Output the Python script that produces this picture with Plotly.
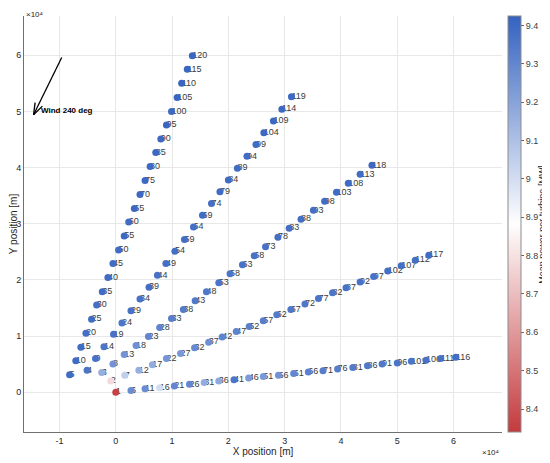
import math
import plotly.graph_objects as go

# turbine layout, positions in units of 1e4 m
# five arms, turbine ids step by 5 along each arm
arm_a_ids = [1, 6, 11, 16, 21, 26, 31, 36, 41, 46, 51, 56, 61, 66, 71, 76, 81, 86, 91, 96, 101, 106, 111, 116]
arm_a_x = [0.00, 0.27, 0.52, 0.78, 1.04, 1.31, 1.57, 1.83, 2.10, 2.36, 2.62, 2.89, 3.16, 3.42, 3.68, 3.94, 4.21, 4.47, 4.73, 5.00, 5.25, 5.51, 5.77, 6.04]
arm_a_y = [0.00, 0.03, 0.06, 0.08, 0.11, 0.14, 0.17, 0.20, 0.22, 0.25, 0.28, 0.30, 0.33, 0.36, 0.38, 0.41, 0.44, 0.47, 0.50, 0.52, 0.55, 0.57, 0.60, 0.62]
arm_a_power = [8.36, 9.28, 9.28, 9.00, 9.30, 9.30, 9.17, 9.18, 9.36, 9.23, 9.24, 9.26, 9.30, 9.32, 9.33, 9.33, 9.34, 9.35, 9.35, 9.36, 9.36, 9.37, 9.37, 9.38]

arm_b_ids = [2, 7, 12, 17, 22, 27, 32, 37, 42, 47, 52, 57, 62, 67, 72, 77, 82, 87, 92, 97, 102, 107, 112, 117]
arm_b_x = [-0.09, 0.16, 0.41, 0.65, 0.90, 1.15, 1.40, 1.65, 1.89, 2.14, 2.37, 2.62, 2.86, 3.11, 3.36, 3.60, 3.85, 4.09, 4.34, 4.58, 4.83, 5.07, 5.32, 5.56]
arm_b_y = [0.20, 0.30, 0.39, 0.49, 0.60, 0.69, 0.79, 0.89, 0.98, 1.08, 1.17, 1.27, 1.38, 1.47, 1.57, 1.67, 1.77, 1.86, 1.96, 2.06, 2.16, 2.25, 2.35, 2.44]
arm_b_power = [8.78, 9.05, 9.16, 9.17, 9.25, 9.24, 9.29, 9.27, 9.31, 9.31, 9.32, 9.33, 9.34, 9.35, 9.35, 9.36, 9.36, 9.37, 9.37, 9.37, 9.38, 9.38, 9.38, 9.39]

arm_c_ids = [3, 8, 13, 18, 23, 28, 33, 38, 43, 48, 53, 58, 63, 68, 73, 78, 83, 88, 93, 98, 103, 108, 113, 118]
arm_c_x = [-0.25, -0.05, 0.15, 0.36, 0.58, 0.78, 0.99, 1.20, 1.41, 1.61, 1.83, 2.03, 2.25, 2.46, 2.66, 2.88, 3.08, 3.29, 3.51, 3.71, 3.92, 4.13, 4.34, 4.55]
arm_c_y = [0.35, 0.50, 0.67, 0.83, 0.99, 1.15, 1.31, 1.47, 1.63, 1.79, 1.95, 2.11, 2.27, 2.43, 2.59, 2.76, 2.92, 3.08, 3.24, 3.40, 3.56, 3.72, 3.88, 4.04]
arm_c_power = [9.16, 9.26, 9.26, 9.27, 9.30, 9.31, 9.33, 9.34, 9.35, 9.35, 9.36, 9.36, 9.37, 9.37, 9.37, 9.38, 9.38, 9.38, 9.38, 9.39, 9.39, 9.39, 9.39, 9.40]

arm_d_ids = [4, 9, 14, 19, 24, 29, 34, 39, 44, 49, 54, 59, 64, 69, 74, 79, 84, 89, 94, 99, 104, 109, 114, 119]
arm_d_x = [-0.51, -0.36, -0.21, -0.04, 0.11, 0.27, 0.43, 0.59, 0.74, 0.89, 1.05, 1.22, 1.38, 1.54, 1.70, 1.85, 2.00, 2.16, 2.33, 2.49, 2.63, 2.80, 2.95, 3.12]
arm_d_y = [0.39, 0.60, 0.81, 1.03, 1.23, 1.45, 1.66, 1.87, 2.08, 2.29, 2.51, 2.72, 2.94, 3.15, 3.36, 3.57, 3.78, 3.99, 4.20, 4.41, 4.62, 4.83, 5.04, 5.26]
arm_d_power = [9.36, 9.37, 9.36, 9.37, 9.36, 9.37, 9.37, 9.38, 9.37, 9.38, 9.38, 9.38, 9.38, 9.39, 9.38, 9.39, 9.39, 9.39, 9.39, 9.39, 9.40, 9.40, 9.40, 9.40]

arm_e_ids = [5, 10, 15, 20, 25, 30, 35, 40, 45, 50, 55, 60, 65, 70, 75, 80, 85, 90, 95, 100, 105, 110, 115, 120]
arm_e_x = [-0.82, -0.71, -0.62, -0.53, -0.43, -0.34, -0.24, -0.14, -0.05, 0.05, 0.15, 0.23, 0.33, 0.43, 0.52, 0.61, 0.71, 0.80, 0.90, 0.99, 1.09, 1.17, 1.27, 1.36]
arm_e_y = [0.31, 0.56, 0.80, 1.05, 1.30, 1.55, 1.79, 2.04, 2.29, 2.53, 2.78, 3.03, 3.27, 3.52, 3.77, 4.02, 4.27, 4.51, 4.76, 5.00, 5.25, 5.50, 5.75, 5.99]
arm_e_power = [9.39, 9.39, 9.39, 9.38, 9.39, 9.38, 9.39, 9.39, 9.39, 9.39, 9.40, 9.39, 9.40, 9.40, 9.40, 9.40, 9.40, 9.40, 9.41, 9.40, 9.41, 9.41, 9.41, 9.41]

x_ticks = [-1, 0, 1, 2, 3, 4, 5, 6]
y_ticks = [0, 1, 2, 3, 4, 5, 6]
cbar_ticks = [8.4, 8.5, 8.6, 8.7, 8.8, 8.9, 9.0, 9.1, 9.2, 9.3, 9.4]
power_min, power_max = 8.34, 9.425

# wind arrow (tail -> head), same units
wind_tail = (-0.96, 5.96)
wind_head = (-1.46, 4.94)
wind_label = "Wind 240 deg"
head_len, head_ang = 0.22, 19.0   # quiver-like open head

ids = arm_a_ids + arm_b_ids + arm_c_ids + arm_d_ids + arm_e_ids
xs = arm_a_x + arm_b_x + arm_c_x + arm_d_x + arm_e_x
ys = arm_a_y + arm_b_y + arm_c_y + arm_d_y + arm_e_y
power = arm_a_power + arm_b_power + arm_c_power + arm_d_power + arm_e_power

rwb = [[0.0, "rgb(196,58,62)"], [0.5, "rgb(255,255,255)"], [1.0, "rgb(52,98,192)"]]
FONT = "Liberation Sans, Arial, sans-serif"

fig = go.Figure()

# wind arrow: shaft + two head strokes
back = math.atan2(wind_tail[1] - wind_head[1], wind_tail[0] - wind_head[0])
arrow_x = [wind_tail[0], wind_head[0], None]
arrow_y = [wind_tail[1], wind_head[1], None]
for s in (1, -1):
    a = back + s * math.radians(head_ang)
    arrow_x += [wind_head[0] + head_len * math.cos(a), wind_head[0], None]
    arrow_y += [wind_head[1] + head_len * math.sin(a), wind_head[1], None]
fig.add_trace(go.Scatter(x=arrow_x, y=arrow_y, mode="lines",
                         line=dict(color="black", width=1.3),
                         hoverinfo="skip", showlegend=False))

# labels first so the dots sit on top of them
fig.add_trace(go.Scatter(
    x=xs, y=ys, mode="text",
    text=[str(i) for i in ids],
    textposition="middle right",
    textfont=dict(family=FONT, size=9, color="#3a3a3a"),
    hoverinfo="skip", showlegend=False,
))

fig.add_trace(go.Scatter(
    x=xs, y=ys, mode="markers",
    marker=dict(
        size=7, color=power, colorscale=rwb, cmin=power_min, cmax=power_max,
        line=dict(width=0),
        colorbar=dict(
            x=1.0126, xanchor="left", xpad=0, y=0.5, len=1.0, ypad=0,
            thickness=13, outlinecolor="#8c8c8c", outlinewidth=1,
            tickvals=cbar_ticks, ticktext=[f"{v:g}" for v in cbar_ticks],
            ticks="outside", ticklen=3, tickcolor="#666",
            tickfont=dict(family=FONT, size=9, color="#404040"),
        ),
    ),
    text=[str(i) for i in ids],
    hovertemplate="Turbine %{text}<br>%{marker.color:.2f} MW<extra></extra>",
    showlegend=False,
))

axis_common = dict(
    showgrid=True, gridcolor="#e8e8e8", gridwidth=1, automargin=False,
    zeroline=False, showline=True, linecolor="#707070", linewidth=1,
    ticks="", tickfont=dict(family=FONT, size=9, color="#262626"),
)

fig.update_xaxes(range=[-1.63, 6.86], tickvals=x_ticks, ticktext=[str(v) for v in x_ticks],
                 title=dict(text="X position [m]", standoff=3,
                            font=dict(family=FONT, size=10, color="#262626")),
                 **axis_common)
fig.update_yaxes(range=[-0.71, 6.70], tickvals=y_ticks, ticktext=[str(v) for v in y_ticks],
                 title=dict(text="Y position [m]", standoff=6,
                            font=dict(family=FONT, size=10, color="#262626")),
                 **axis_common)

fig.add_annotation(
    x=wind_head[0], y=wind_head[1], xref="x", yref="y", text=f"<b>{wind_label}</b>",
    showarrow=False, xanchor="left", yanchor="middle", xshift=5, yshift=4,
    font=dict(family=FONT, size=8, color="black"),
)

# colorbar label, reads bottom to top
fig.add_annotation(x=1.083, y=0.5, xref="paper", yref="paper",
                   text="Mean power per turbine [MW]", textangle=-90,
                   showarrow=False, xanchor="center", yanchor="middle",
                   font=dict(family=FONT, size=9, color="#262626"))

# MATLAB-style exponent labels
fig.add_annotation(x=0, y=1, xref="paper", yref="paper", text="×10⁴",
                   showarrow=False, xanchor="left", yanchor="top", yshift=8,
                   font=dict(family=FONT, size=8, color="#262626"))
fig.add_annotation(x=1, y=0, xref="paper", yref="paper", text="×10⁴",
                   showarrow=False, xanchor="right", yanchor="top", yshift=-14,
                   font=dict(family=FONT, size=8, color="#262626"))

# the page body adds an 8px margin, so the figure is sized to fit the window
fig.update_layout(
    width=542, height=455,
    paper_bgcolor="white", plot_bgcolor="white",
    margin=dict(l=16, r=48, t=8, b=31),
    font=dict(family=FONT, size=9),
)

fig.write_html("out.html")
